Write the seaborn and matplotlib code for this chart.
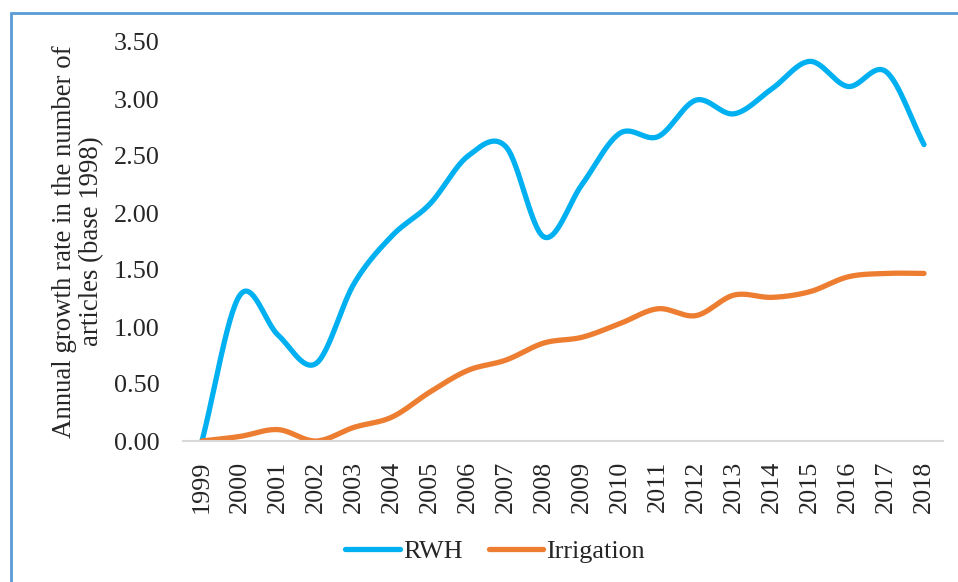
import matplotlib
matplotlib.use('Agg')
import matplotlib.pyplot as plt
import numpy as np
import pandas as pd
import seaborn as sns
from matplotlib.patches import Rectangle

# Data
years = [1999, 2000, 2001, 2002, 2003, 2004, 2005, 2006, 2007, 2008,
         2009, 2010, 2011, 2012, 2013, 2014, 2015, 2016, 2017, 2018]
rwh = [0.00, 1.28, 0.93, 0.68, 1.38, 1.80, 2.08, 2.50, 2.58, 1.79,
       2.25, 2.70, 2.67, 2.99, 2.87, 3.09, 3.33, 3.11, 3.24, 2.60]
irrigation = [0.00, 0.04, 0.10, 0.00, 0.12, 0.21, 0.43, 0.62, 0.71, 0.86,
              0.91, 1.03, 1.16, 1.10, 1.28, 1.26, 1.31, 1.44, 1.47, 1.47]
series_names = ['RWH', 'Irrigation']
colors = {'RWH': '#00B0F0', 'Irrigation': '#ED7D31'}


def smooth(y, n=30):
    # Excel-like smoothed line (Catmull-Rom spline through the points)
    y = np.asarray(y, dtype=float)
    x = np.arange(len(y), dtype=float)
    p = np.concatenate([[2 * y[0] - y[1]], y, [2 * y[-1] - y[-2]]])
    xs, ys = [], []
    for i in range(len(y) - 1):
        t = np.linspace(0, 1, n, endpoint=False)
        p0, p1, p2, p3 = p[i], p[i + 1], p[i + 2], p[i + 3]
        seg = 0.5 * ((2 * p1) + (-p0 + p2) * t + (2 * p0 - 5 * p1 + 4 * p2 - p3) * t ** 2
                     + (-p0 + 3 * p1 - 3 * p2 + p3) * t ** 3)
        xs.append(x[i] + t)
        ys.append(seg)
    xs.append([x[-1]])
    ys.append([y[-1]])
    return np.concatenate(xs), np.concatenate(ys)


frames = []
for name, vals in zip(series_names, [rwh, irrigation]):
    xs, ys = smooth(vals)
    frames.append(pd.DataFrame({'x': xs, 'value': ys, 'series': name}))
df = pd.concat(frames, ignore_index=True)

sns.set_style('white')
plt.rcParams['font.family'] = ['Liberation Serif', 'DejaVu Serif']

fig = plt.figure(figsize=(9.58, 5.82), dpi=100)
ax = fig.add_axes([183 / 958, 1 - 441 / 582, 760 / 958, 399 / 582])

sns.lineplot(data=df, x='x', y='value', hue='series', palette=colors,
             linewidth=3.8, ax=ax, sort=False, legend=False)
for ln in ax.get_lines():
    ln.set_solid_capstyle('round')

ax.set_xlim(-0.5, len(years) - 0.5)
ax.set_ylim(0, 3.5)
ax.set_xticks(range(len(years)))
ax.set_xticklabels([str(y) for y in years], rotation=90)
ax.set_yticks(np.arange(0, 3.51, 0.5))
ax.set_yticklabels([f'{v:.2f}' for v in np.arange(0, 3.51, 0.5)])
ax.tick_params(axis='both', length=0, labelsize=18.8)
ax.tick_params(axis='y', pad=17)
ax.tick_params(axis='x', pad=14)
for s in ['top', 'right', 'left']:
    ax.spines[s].set_visible(False)
ax.spines['bottom'].set_color('#D9D9D9')
ax.spines['bottom'].set_linewidth(1.5)
ax.set_xlabel('')
ax.set_ylabel('Annual growth rate in the number of\narticles (base 1998)',
              fontsize=19.3, labelpad=7, linespacing=1.1)

handles = [plt.Line2D([], [], color=colors[n], linewidth=3.8, solid_capstyle='round')
           for n in series_names]
fig.legend(handles, series_names, loc='center', bbox_to_anchor=(495 / 958, 1 - 551 / 582),
           ncol=2, frameon=False, fontsize=18.8, handlelength=2.1,
           handletextpad=0.1, columnspacing=1.0)

# blue chart frame (clipped by the image on the right and bottom)
fig.patches.append(Rectangle((11 / 958, -0.1), 1.2, 1.1 - 13 / 582,
                             transform=fig.transFigure, fill=False,
                             edgecolor='#5B9BD5', linewidth=2))

fig.savefig('out.png', dpi=100)
